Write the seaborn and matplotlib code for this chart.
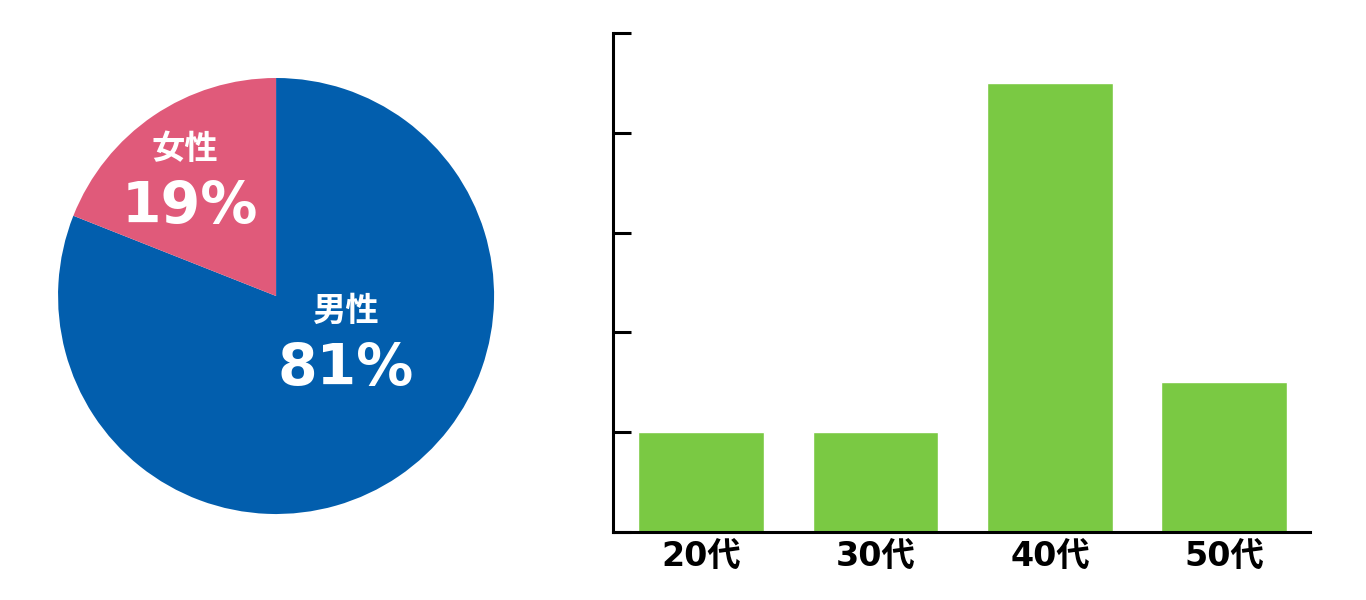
import matplotlib
matplotlib.use("Agg")
import matplotlib.pyplot as plt
import seaborn as sns
import pandas as pd

# gender split (pie)
genders = ["男性", "女性"]
gender_pct = [81, 19]
gender_colors = ["#025EAD", "#E05A7A"]

# age groups (bars)
age_groups = ["20代", "30代", "40代", "50代"]
age_counts = [1, 1, 4.5, 1.5]
bar_color = "#7AC943"

sns.set_theme(style="white")
plt.rcParams["font.family"] = ["DejaVu Sans", "Noto Sans CJK JP"]

fig = plt.figure(figsize=(13.66, 6), dpi=100)

# pie
ax_pie = fig.add_axes([0.0425, 0.1433, 0.3192, 0.7267])
ax_pie.pie(gender_pct, colors=gender_colors, startangle=90, counterclock=False,
           radius=1.0, wedgeprops=dict(linewidth=0))
ax_pie.set_xlim(-1, 1)
ax_pie.set_ylim(-1, 1)
ax_pie.set_aspect("equal")

label_pos = {"男性": ((0.317, -0.069), (0.321, -0.339)),
             "女性": ((-0.417, 0.67), (-0.394, 0.408))}
for g, p in zip(genders, gender_pct):
    (nx, ny), (px, py) = label_pos[g]
    ax_pie.text(nx, ny, g, ha="center", va="center", color="white",
                fontsize=24, fontweight="bold",
                family=["Noto Sans CJK JP", "DejaVu Sans"])
    ax_pie.text(px, py, f"{p}%", ha="center", va="center", color="white",
                fontsize=41, fontweight="bold")

# bars
ax_bar = fig.add_axes([0.4488, 0.1133, 0.5102, 0.8317])
df = pd.DataFrame({"age": age_groups, "count": age_counts})
sns.barplot(data=df, x="age", y="count", color=bar_color, saturation=1,
            width=0.722, ax=ax_bar)
ax_bar.set_xlim(-0.504, 3.49)
ax_bar.set_ylim(0, 5)
ax_bar.set_yticks(range(0, 6))
ax_bar.set_yticklabels([])
ax_bar.set_xlabel("")
ax_bar.set_ylabel("")
for s in ["top", "right"]:
    ax_bar.spines[s].set_visible(False)
for s in ["left", "bottom"]:
    ax_bar.spines[s].set_color("black")
    ax_bar.spines[s].set_linewidth(2.2)
ax_bar.tick_params(axis="y", direction="in", length=13, width=2.2, color="black", left=True)
ax_bar.tick_params(axis="x", length=0, labelsize=24, pad=6)
for lab in ax_bar.get_xticklabels():
    lab.set_fontweight("bold")
    lab.set_color("black")

fig.savefig("out.png", dpi=100, facecolor="white")
